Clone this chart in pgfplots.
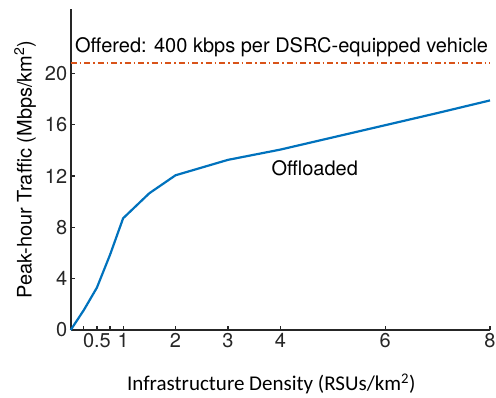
\documentclass[border=0pt]{standalone}
\usepackage{pgfplots}
\pgfplotsset{compat=1.18}
\usepackage{fontspec}
\setmainfont{TeX Gyre Heros}
\newfontfamily\carlito{Carlito}
\definecolor{mblue}{RGB}{0,114,189}
\definecolor{morange}{RGB}{217,83,25}
\definecolor{axgray}{RGB}{38,38,38}
\begin{document}
\begin{tikzpicture}
\begin{axis}[
  scale only axis, width=419.3pt, height=321pt,
  xmin=0, xmax=8, ymin=0, ymax=25,
  axis x line*=bottom, axis y line*=left,
  axis line style={line width=1.8pt, color=axgray},
  xtick={0.25,0.5,0.75,1,2,3,4,6,8},
  xticklabels={{},0.5,{},1,2,3,4,6,8},
  ytick={0,4,8,12,16,20},
  tick style={line width=1.2pt, color=axgray},
  major tick length=4.5pt, tick align=inside,
  ticklabel style={font=\fontsize{20}{24}\selectfont, text=axgray},
  /pgf/number format/assume math mode=true,
  xlabel={\carlito Infrastructure Density (RSUs/km\textsuperscript{2})},
  ylabel={Peak-hour Traffic (Mbps/km\textsuperscript{2})},
  xlabel style={font=\fontsize{21}{24}\selectfont, at={(axis description cs:0.4785,-0.19)}, anchor=base, inner sep=0pt},
  ylabel style={font=\fontsize{20}{24}\selectfont, at={(axis description cs:-0.093,0.5)}, anchor=base, rotate=0, inner sep=0pt},
  clip=false,
]
\addplot[morange, line width=2pt, dash pattern=on 6pt off 3pt on 1.5pt off 3pt] coordinates {(0,20.8) (8,20.8)};
\addplot[mblue, line width=2.2pt] coordinates {
(0,0) (0.25,1.55) (0.5,3.3) (0.75,5.85) (1,8.7) (1.5,10.65) (2,12.05) (3,13.25) (4,14.05) (5,15.0) (6,15.95) (7,16.9) (8,17.88)};
\node[anchor=base west, inner sep=0pt, font=\fontsize{20}{24}\selectfont] at (axis cs:0.08,21.6) {Offered: 400 kbps per DSRC-equipped vehicle};
\node[anchor=base west, inner sep=0pt, font=\fontsize{20}{24}\selectfont] at (axis cs:3.83,12.07) {Offloaded};
\end{axis}
\pgfresetboundingbox
\path[use as bounding box] (-70.7pt,-67pt) rectangle (425.3pt,330pt);
\end{tikzpicture}
\end{document}
